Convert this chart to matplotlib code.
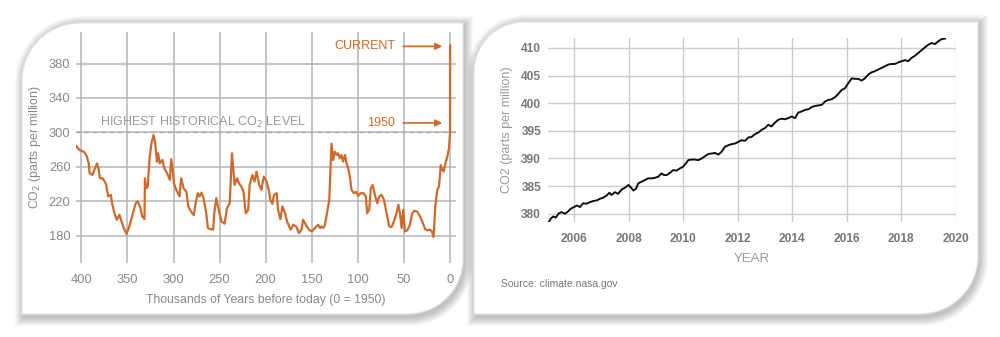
import numpy as np
import matplotlib.pyplot as plt
from matplotlib.patches import Polygon

plt.rcParams['font.family'] = ['Liberation Sans', 'DejaVu Sans']

# ---- data: Vostok ice core CO2 (left panel) ----
vostok_kyr = [407.6, 406, 402, 396.7, 394, 392, 391, 388, 386, 383, 381, 380, 377, 374, 373,
              371, 368, 366.7, 364, 361.6, 358.7, 356, 354, 351, 348, 344, 341, 339, 336, 334,
              331.5, 331, 329.7, 328, 326, 324, 321.7, 320, 318, 316.7, 315, 312, 310, 307, 304,
              302.5, 300.7, 299.6, 297, 293.5, 291.7, 289, 286, 284, 281, 278, 276, 273.6, 271.7,
              269.6, 267.4, 264.5, 262.7, 260, 257, 255.8, 253.6, 251.8, 248, 244.6, 242, 239,
              236.6, 233.7, 231, 229, 226.4, 224, 221.7, 219, 217.4, 214.5, 212, 210, 207, 204.7,
              202, 199, 196.7, 195, 192.7, 191, 188, 186.6, 184, 181.9, 179, 176.8, 173, 170, 167,
              163.8, 161, 159.4, 156.5, 153, 150, 146.7, 143, 141, 139.5, 137.7, 136, 134, 131,
              128.6, 126.8, 125, 123, 121.4, 119.6, 117.8, 116, 114, 112.3, 110.5, 108.7, 106.9,
              104.3, 102, 99.6, 97, 94, 91.3, 89.9, 87.7, 86, 84, 81.5, 79, 76.8, 74.3, 71.7, 68.8,
              66, 63.4, 60.9, 58, 56, 54.3, 52.5, 50.7, 48.9, 46.4, 43.5, 41, 38.8, 35.5, 32.6,
              29.7, 27, 24.6, 21.7, 19.9, 17.8, 16, 13.8, 12, 10, 8.7, 6.9, 5, 2.9, 1.1, 0, -0.07]
vostok_ppm = [277.7, 284.6, 279.6, 277, 272, 264, 252.6, 250.6, 256.4, 264, 256.4, 246.8, 246.8,
              241.8, 239, 225.6, 227.5, 217.8, 206, 198.5, 204.3, 195.4, 188.9, 182, 190.8, 206.3,
              217.8, 219.8, 213, 202.4, 199.3, 246.8, 235, 237, 270, 287, 297, 289, 266, 275.8,
              264, 268, 258.4, 252.6, 244.9, 268.8, 254.5, 241, 233.3, 225.6, 246.8, 235, 231,
              214, 208, 204, 217.8, 229.4, 225.6, 230, 223.6, 206, 188.9, 187.7, 187, 206, 223.6,
              214, 196.6, 193.9, 212, 217.8, 275.8, 239, 246.8, 241, 237, 231, 206, 210, 239,
              250.6, 243, 254.5, 239, 233.3, 248.7, 243, 233.3, 221.7, 217, 227.5, 229.4, 210,
              199.3, 214, 206.3, 196.6, 187, 192.7, 190.8, 183, 187.7, 198.5, 192.7, 187, 185,
              188.9, 192.7, 188.9, 190.8, 188.9, 191.6, 203, 221.7, 287, 268, 277.7, 273.8, 275.8,
              270, 273.8, 266, 273.8, 264, 258.4, 248.7, 233.3, 229.4, 231, 226.3, 229.4, 229.4,
              225.6, 206, 210, 235, 239, 227.5, 217.8, 225.6, 227.5, 221.7, 206, 190.8, 190, 196.6,
              206, 216, 206, 188.9, 210, 185, 186.2, 192.7, 206, 209, 208, 202.4, 195.4, 187.7,
              186.2, 187, 185, 178.5, 214, 233.3, 237, 262, 257, 254.5, 264, 272, 281.5, 300.8, 401]
left_yticks = [180, 220, 260, 300, 340, 380]
left_xticks = [400, 350, 300, 250, 200, 150, 100, 50, 0]
highest_level = 300
current_level = 400
level_1950 = 311

# ---- data: recent monthly CO2 (right panel) ----
years = [2005.06, 2005.15, 2005.24, 2005.34, 2005.43, 2005.55, 2005.67, 2005.76, 2005.88, 2006.0,
         2006.12, 2006.22, 2006.34, 2006.46, 2006.59, 2006.71, 2006.83, 2006.95, 2007.07, 2007.2,
         2007.3, 2007.38, 2007.5, 2007.62, 2007.75, 2007.87, 2008.0, 2008.08, 2008.18, 2008.27,
         2008.36, 2008.48, 2008.6, 2008.72, 2008.85, 2008.97, 2009.09, 2009.21, 2009.3, 2009.4,
         2009.52, 2009.64, 2009.76, 2009.88, 2010.0, 2010.1, 2010.19, 2010.31, 2010.43, 2010.56,
         2010.68, 2010.8, 2010.92, 2011.05, 2011.17, 2011.29, 2011.41, 2011.53, 2011.66, 2011.78,
         2011.9, 2012.02, 2012.14, 2012.27, 2012.39, 2012.51, 2012.63, 2012.76, 2012.88, 2013.0,
         2013.12, 2013.24, 2013.37, 2013.49, 2013.61, 2013.73, 2013.85, 2013.98, 2014.1, 2014.22,
         2014.34, 2014.47, 2014.59, 2014.71, 2014.83, 2014.95, 2015.08, 2015.2, 2015.32, 2015.44,
         2015.57, 2015.69, 2015.81, 2015.93, 2016.05, 2016.18, 2016.3, 2016.42, 2016.54, 2016.66,
         2016.79, 2016.91, 2017.03, 2017.15, 2017.28, 2017.4, 2017.52, 2017.64, 2017.76, 2017.89,
         2018.01, 2018.13, 2018.25, 2018.37, 2018.5, 2018.62, 2018.74, 2018.86, 2018.99, 2019.11,
         2019.23, 2019.35, 2019.47, 2019.6]
co2_monthly = [378.3, 379.1, 379.5, 379.3, 380.0, 380.3, 380.0, 380.3, 380.9, 381.2, 381.5, 381.2,
               381.9, 381.8, 382.1, 382.3, 382.4, 382.7, 382.9, 383.3, 383.8, 383.4, 383.9, 383.6,
               384.4, 384.7, 385.2, 384.8, 384.2, 384.5, 385.5, 385.8, 386.1, 386.4, 386.4, 386.5,
               386.7, 387.3, 387.0, 387.0, 387.4, 387.9, 387.8, 388.2, 388.5, 389.1, 389.7, 389.8,
               389.8, 389.7, 390.0, 390.4, 390.8, 390.9, 391.0, 390.7, 391.2, 392.1, 392.4, 392.6,
               392.7, 393.0, 393.3, 393.2, 393.8, 393.9, 394.4, 394.7, 395.2, 395.5, 396.1, 395.8,
               396.5, 397.0, 397.2, 397.1, 397.3, 397.6, 397.3, 398.3, 398.5, 398.8, 398.9, 399.3,
               399.5, 399.6, 399.7, 400.3, 400.6, 400.7, 401.1, 401.7, 402.4, 402.7, 403.6, 404.5,
               404.4, 404.4, 404.1, 404.5, 405.2, 405.6, 405.8, 406.1, 406.4, 406.7, 407.0, 407.1,
               407.1, 407.4, 407.6, 407.8, 407.6, 408.2, 408.6, 409.1, 409.6, 410.1, 410.6, 410.9,
               410.7, 411.2, 411.6, 411.7]
right_xticks = [2006, 2008, 2010, 2012, 2014, 2016, 2018, 2020]
right_yticks = [380, 385, 390, 395, 400, 405, 410]

ORANGE = '#cf6a2c'


def card(x0, y0, x1, y1, r_tl, r_br):
    # rectangle with rounded top-left and bottom-right corners (pixel coords, y down)
    pts = [(x1, y0), (x1, y1 - r_br)]
    t = np.linspace(0, np.pi / 2, 20)
    pts += list(zip(x1 - r_br + r_br * np.cos(t), y1 - r_br + r_br * np.sin(t)))
    pts += [(x0, y1), (x0, y0 + r_tl)]
    t = np.linspace(np.pi, 1.5 * np.pi, 20)
    pts += list(zip(x0 + r_tl + r_tl * np.cos(t), y0 + r_tl + r_tl * np.sin(t)))
    return np.array(pts)


fig = plt.figure(figsize=(10, 3.37), dpi=100)
bg = fig.add_axes([0, 0, 1, 1], zorder=-5)
bg.set_xlim(0, 1000)
bg.set_ylim(337, 0)
bg.axis('off')
for box in [(22, 23, 463, 314, 58, 55), (474, 22, 978, 314, 50, 58)]:
    for i in range(9, 0, -1):
        shp = card(box[0] - i + 2, box[1] - i + 2, box[2] + i + 1, box[3] + i + 3,
                   box[4] + i, box[5] + i)
        bg.add_patch(Polygon(shp, closed=True, facecolor='black', edgecolor='none', alpha=0.028))
    bg.add_patch(Polygon(card(*box), closed=True, facecolor='white', edgecolor='#e4e4e4', lw=0.8))

# ---- left panel ----
ax1 = fig.add_axes([0.076, 0.2196, 0.380, 0.6855])
ax1.set_facecolor('none')
ax1.plot(vostok_kyr, vostok_ppm, color=ORANGE, lw=1.6, zorder=3)
ax1.axhline(highest_level, color='#aaaaaa', lw=1, ls=(0, (3, 3)), zorder=2)
ax1.set_xlim(405.8, -6.5)
ax1.set_ylim(148.3, 416.7)
ax1.set_xticks(left_xticks)
ax1.set_yticks(left_yticks)
ax1.grid(True, color='#b5b5b5', lw=1.1)
ax1.tick_params(length=0, labelsize=9.3, colors='#888888')
ax1.tick_params(axis='x', pad=8)
ax1.tick_params(axis='y', pad=4)
for s in ax1.spines.values():
    s.set_visible(False)
ax1.set_xlabel('Thousands of Years before today (0 = 1950)', fontsize=8.8, color='#888888', labelpad=6)
ax1.set_ylabel('CO$_2$ (parts per million)', fontsize=8.8, color='#888888', labelpad=4)
ax1.text(380, 303, 'HIGHEST HISTORICAL CO$_2$ LEVEL', fontsize=9, color='#999999', va='bottom')
ax1.annotate('', xy=(5.4, current_level), xytext=(54, current_level),
             arrowprops=dict(arrowstyle='-|>', color=ORANGE, lw=1.2, mutation_scale=10))
ax1.text(59, current_level, 'CURRENT', fontsize=9, color=ORANGE, ha='right', va='center')
ax1.annotate('', xy=(5.4, level_1950), xytext=(54, level_1950),
             arrowprops=dict(arrowstyle='-|>', color=ORANGE, lw=1.2, mutation_scale=10))
ax1.text(60, level_1950, '1950', fontsize=9, color=ORANGE, ha='right', va='center')

# ---- right panel ----
ax2 = fig.add_axes([0.548, 0.3412, 0.408, 0.546])
ax2.set_facecolor('none')
ax2.plot(years, co2_monthly, color='#111111', lw=1.4, zorder=3)
ax2.set_xlim(2005.05, 2020)
ax2.set_ylim(378.5, 411.8)
ax2.set_xticks(right_xticks)
ax2.set_yticks(right_yticks)
ax2.grid(True, color='#cccccc', lw=1)
ax2.tick_params(length=0, labelsize=8.6, colors='#777777')
ax2.tick_params(axis='x', pad=8)
ax2.tick_params(axis='y', pad=5)
for lab in ax2.get_xticklabels() + ax2.get_yticklabels():
    lab.set_fontweight('bold')
for s in ax2.spines.values():
    s.set_visible(False)
ax2.set_xlabel('YEAR', fontsize=9.5, color='#999999', labelpad=6)
ax2.set_ylabel('CO2 (parts per million)', fontsize=9, color='#999999', labelpad=6)
fig.text(0.501, 1 - 284 / 337, 'Source: climate.nasa.gov', fontsize=7.5, color='#777777', va='center')

fig.savefig('out.png', dpi=100, facecolor='white')
